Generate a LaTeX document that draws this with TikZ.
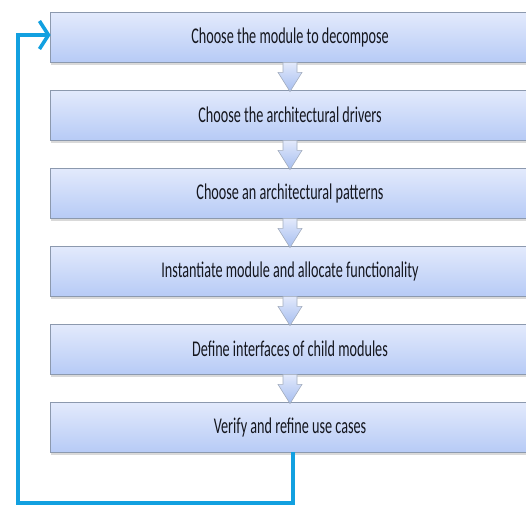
\documentclass[tikz,border=0pt]{standalone}
\usepackage{fontspec}
\setmainfont{Carlito}[FakeStretch=0.63]
\usetikzlibrary{arrows.meta,shadows,calc}

\definecolor{boxtop}{HTML}{E3EAFC}
\definecolor{boxbot}{HTML}{B7CBF6}
\definecolor{boxline}{HTML}{8C99AE}
\definecolor{arrtop}{HTML}{E2E9FB}
\definecolor{arrbot}{HTML}{A6BEF0}
\definecolor{loopblue}{HTML}{12A0E0}
\definecolor{steptext}{HTML}{15171F}

\tikzset{
  stepbox/.style={
    draw=boxline, line width=0.8pt,
    top color=boxtop, bottom color=boxbot,
    minimum width=480pt, minimum height=50pt,
    inner sep=0pt,
    font=\fontsize{22.5}{26}\selectfont, text=steptext,
    drop shadow={shadow xshift=1pt, shadow yshift=-2.5pt, opacity=0.25, fill=black!60}
  },
  blockarrow/.style={
    draw=boxline!80, line width=0.6pt,
    top color=arrtop, bottom color=arrbot
  },
  loopline/.style={
    draw=loopblue, line width=3.6pt,
    -{Straight Barb[length=9pt,width=28pt,line width=3.6pt]}
  }
}

\begin{document}
\begin{tikzpicture}[x=1pt,y=-1pt]
  \useasboundingbox (0,0) rectangle (526,507);

  % process steps
  \node[stepbox] (s1) at (290,37)  {Choose the module to decompose};
  \node[stepbox] (s2) at (290,115) {Choose the architectural drivers};
  \node[stepbox] (s3) at (290,193) {Choose an architectural patterns};
  \node[stepbox] (s4) at (290,271) {Instantiate module and allocate functionality};
  \node[stepbox] (s5) at (290,349) {Define interfaces of child modules};
  \node[stepbox] (s6) at (290,427) {Verify and refine use cases};

  % block arrows between consecutive steps
  \foreach \a/\b in {s1/s2,s2/s3,s3/s4,s4/s5,s5/s6}{
    \path[blockarrow]
      ($(\a.south)+(-7,0)$) -- ($(\a.south)+(-7,10)$) -- ($(\a.south)+(-12,10)$)
      -- ($(\b.north)+(0,2)$)
      -- ($(\a.south)+(12,10)$) -- ($(\a.south)+(7,10)$) -- ($(\a.south)+(7,0)$) -- cycle;
  }

  % feedback loop back to the first step
  \coordinate (back) at ($(s1.west)+(1,-2)$);
  \draw[loopline] ($(s6.south)+(3,0)$) |- (18,503) |- (back);
\end{tikzpicture}
\end{document}
